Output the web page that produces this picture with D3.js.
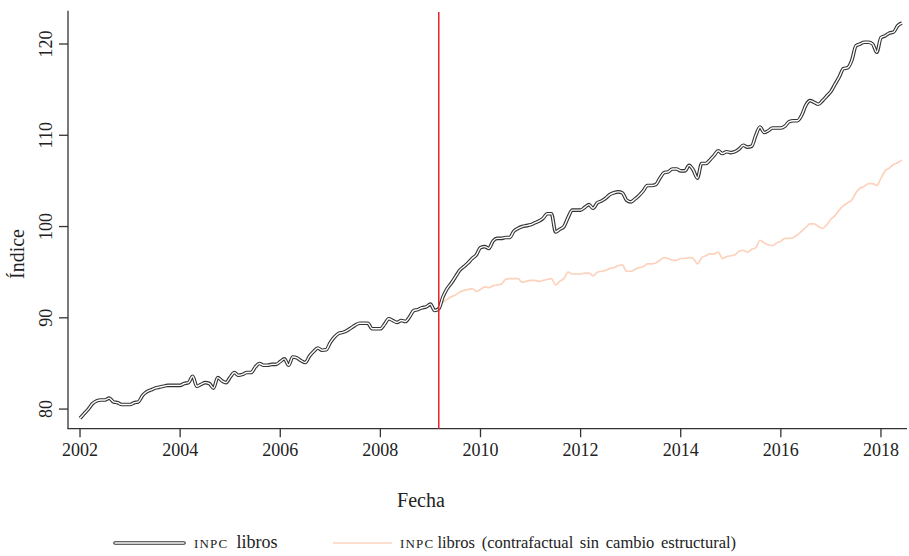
<!DOCTYPE html>
<html>
<head>
<meta charset="utf-8">
<script src="https://cdn.jsdelivr.net/npm/d3@7"></script>
<style>
  body { margin: 0; background: #fff; }
</style>
</head>
<body>
<svg id="chart" width="909" height="556" font-family="'Liberation Serif', 'Times New Roman', Times, serif"></svg>
<script>
// monthly index values, Jan 2002 .. Jun 2018
const inpcLibros = [
    79.0, 79.5, 80.0, 80.6, 80.9, 81.0, 81.0, 81.2, 80.8, 80.7, 80.5, 80.5,
    80.5, 80.7, 80.8, 81.5, 81.9, 82.1, 82.3, 82.4, 82.5, 82.6, 82.6, 82.6,
    82.6, 82.8, 82.9, 83.6, 82.5, 82.7, 82.9, 82.8, 82.3, 83.45, 83.1, 82.9,
    83.5, 84.0, 83.7, 83.8, 84.0, 84.0, 84.6, 85.0, 84.8, 84.8, 84.9, 84.9,
    85.2, 85.5, 84.8, 85.7, 85.6, 85.3, 85.1, 85.8, 86.3, 86.7, 86.45, 86.5,
    87.3, 87.9, 88.3, 88.4, 88.6, 88.9, 89.2, 89.4, 89.4, 89.4, 88.8, 88.8,
    88.8, 89.3, 89.9, 89.7, 89.5, 89.7, 89.6, 90.1, 90.8, 90.9, 91.1, 91.2,
    91.5, 90.8, 91.0, 92.3, 93.2, 93.8, 94.5, 95.2, 95.6, 96.0, 96.5, 96.9,
    97.7, 97.8, 97.6, 98.4, 98.7, 98.7, 98.8, 98.8, 99.5, 99.8, 100.0, 100.1,
    100.2, 100.4, 100.6, 100.9, 101.4, 101.4, 99.4, 99.7, 100.0, 101.0, 101.8, 101.8,
    101.8, 102.1, 102.4, 102.0, 102.6, 102.8, 103.1, 103.5, 103.7, 103.8, 103.7, 102.9,
    102.7, 103.0, 103.4, 103.9, 104.5, 104.5, 104.6, 105.3, 105.9, 106.0, 106.3, 106.3,
    106.1, 106.1, 106.7, 106.2, 105.3, 106.9, 106.9, 107.3, 107.8, 108.3, 108.0, 108.2,
    108.1, 108.2, 108.5, 108.9, 108.7, 108.8, 110.0, 110.9, 110.3, 110.5, 110.8, 110.8,
    110.8, 111.0, 111.5, 111.6, 111.6, 112.2, 113.3, 113.8, 113.6, 113.4, 113.8, 114.3,
    114.8, 115.6, 116.4, 117.3, 117.4, 118.2, 119.8, 120.0, 120.2, 120.2, 120.0, 119.1,
    120.7, 120.9, 121.2, 121.3, 122.0, 122.3
];
const inpcStart = 2002;

// counterfactual without structural change, Mar 2009 .. Jun 2018
const contrafactual = [
    91.0, 91.7, 92.0, 92.3, 92.5, 92.8, 93.0, 93.1, 93.2, 92.9,
    93.1, 93.4, 93.3, 93.5, 93.6, 93.7, 94.2, 94.3, 94.3, 94.3, 93.9, 94.0,
    94.1, 94.1, 94.0, 94.1, 94.2, 94.3, 93.6, 94.0, 94.3, 95.0, 94.8, 94.8,
    94.8, 94.9, 94.9, 94.6, 95.0, 95.1, 95.2, 95.4, 95.5, 95.7, 95.8, 95.1,
    95.1, 95.3, 95.5, 95.6, 95.9, 95.9, 96.0, 96.3, 96.6, 96.5, 96.3, 96.3,
    96.5, 96.5, 96.6, 96.5, 95.9, 96.6, 96.8, 97.0, 97.0, 97.2, 96.5, 96.7,
    96.8, 96.9, 97.3, 97.4, 97.2, 97.5, 97.7, 98.5, 98.2, 98.0, 97.9, 98.2,
    98.4, 98.7, 98.7, 98.8, 99.1, 99.5, 99.9, 100.3, 100.3, 100.0, 99.8, 100.2,
    100.8, 101.2, 101.8, 102.3, 102.6, 102.9, 103.7, 104.2, 104.4, 104.7, 104.7, 104.5,
    105.3, 106.1, 106.4, 106.8, 107.0, 107.3
];
const breakDate = 2009 + 2 / 12;

const xTicks = [2002, 2004, 2006, 2008, 2010, 2012, 2014, 2016, 2018];
const yTicks = [80, 90, 100, 110, 120];

const seriesLabels = ["libros", "libros (contrafactual sin cambio estructural)"];

const svg = d3.select("#chart");

const x = d3.scaleLinear().domain([2001.76, 2018.52]).range([68, 907]);
const y = d3.scaleLinear().domain([77.85, 123.65]).range([428.7, 10.7]);

const toPoints = (vals, start) => vals.map((v, i) => ({ t: start + i / 12, v: v }));
const blackPts = toPoints(inpcLibros, inpcStart);
const salmonPts = toPoints(contrafactual, breakDate);

const line = d3.line()
    .x(d => x(d.t))
    .y(d => y(d.v))
    .curve(d3.curveMonotoneX);

// axes
const axisColour = "#333";
const textColour = "#222";
svg.append("line")
    .attr("x1", x.range()[0]).attr("x2", x.range()[0])
    .attr("y1", y.range()[1]).attr("y2", y.range()[0])
    .attr("stroke", axisColour).attr("stroke-width", 1.3);
svg.append("line")
    .attr("x1", x.range()[0] - 0.6).attr("x2", x.range()[1])
    .attr("y1", y.range()[0]).attr("y2", y.range()[0])
    .attr("stroke", axisColour).attr("stroke-width", 1.3);

svg.selectAll(".xtick")
    .data(xTicks)
    .enter().append("line")
    .attr("x1", d => x(d)).attr("x2", d => x(d))
    .attr("y1", y.range()[0]).attr("y2", y.range()[0] + 8.5)
    .attr("stroke", axisColour).attr("stroke-width", 1.3);
svg.selectAll(".xlab")
    .data(xTicks)
    .enter().append("text")
    .attr("x", d => x(d))
    .attr("y", 456)
    .attr("text-anchor", "middle")
    .attr("font-size", 18)
    .attr("fill", textColour)
    .text(d => d);

svg.selectAll(".ytick")
    .data(yTicks)
    .enter().append("line")
    .attr("x1", x.range()[0] - 9).attr("x2", x.range()[0])
    .attr("y1", d => y(d)).attr("y2", d => y(d))
    .attr("stroke", axisColour).attr("stroke-width", 1.3);
svg.selectAll(".ylab")
    .data(yTicks)
    .enter().append("text")
    .attr("transform", d => `translate(52,${y(d)}) rotate(-90)`)
    .attr("text-anchor", "middle")
    .attr("font-size", 18)
    .attr("fill", textColour)
    .text(d => d);

// axis titles
svg.append("text")
    .attr("x", 421).attr("y", 507)
    .attr("text-anchor", "middle")
    .attr("font-size", 20)
    .attr("fill", textColour)
    .text("Fecha");
svg.append("text")
    .attr("transform", "translate(24,254) rotate(-90)")
    .attr("text-anchor", "middle")
    .attr("font-size", 20)
    .attr("fill", textColour)
    .text("Índice");

// series
const salmon = "#fcd2bc";
svg.append("path")
    .datum(salmonPts)
    .attr("d", line)
    .attr("fill", "none")
    .attr("stroke", salmon)
    .attr("stroke-width", 1.7);

svg.append("path")
    .datum(blackPts)
    .attr("d", line)
    .attr("fill", "none")
    .attr("stroke", "#333")
    .attr("stroke-width", 3.6)
    .attr("stroke-linejoin", "round");
svg.append("path")
    .datum(blackPts)
    .attr("d", line)
    .attr("fill", "none")
    .attr("stroke", "#fff")
    .attr("stroke-width", 1.4)
    .attr("stroke-linejoin", "round");

// structural break
svg.append("line")
    .attr("x1", x(breakDate)).attr("x2", x(breakDate))
    .attr("y1", 12).attr("y2", y.range()[0])
    .attr("stroke", "#e3232b")
    .attr("stroke-width", 1.5);

// legend
const legY = 543;
const leg = svg.append("g");
leg.append("line").attr("x1", 115).attr("x2", 184).attr("y1", legY).attr("y2", legY)
    .attr("stroke", "#333").attr("stroke-width", 3.6).attr("stroke-linecap", "round");
leg.append("line").attr("x1", 115).attr("x2", 184).attr("y1", legY).attr("y2", legY)
    .attr("stroke", "#fff").attr("stroke-width", 1.4).attr("stroke-linecap", "round");
const t1 = leg.append("text").attr("x", 194).attr("y", legY + 5).attr("font-size", 18)
    .attr("fill", textColour);
t1.append("tspan").attr("font-size", 13).attr("letter-spacing", 1.2).text("INPC");
t1.append("tspan").attr("dx", 8).text(seriesLabels[0]);

leg.append("line").attr("x1", 333).attr("x2", 392).attr("y1", legY).attr("y2", legY)
    .attr("stroke", salmon).attr("stroke-width", 1.7);
const t2 = leg.append("text").attr("x", 400).attr("y", legY + 5).attr("font-size", 16.5)
    .attr("fill", textColour).attr("word-spacing", 2.5);
t2.append("tspan").attr("font-size", 13).attr("letter-spacing", 1.2).text("INPC");
t2.append("tspan").attr("dx", 3).text(seriesLabels[1]);
</script>
</body>
</html>
